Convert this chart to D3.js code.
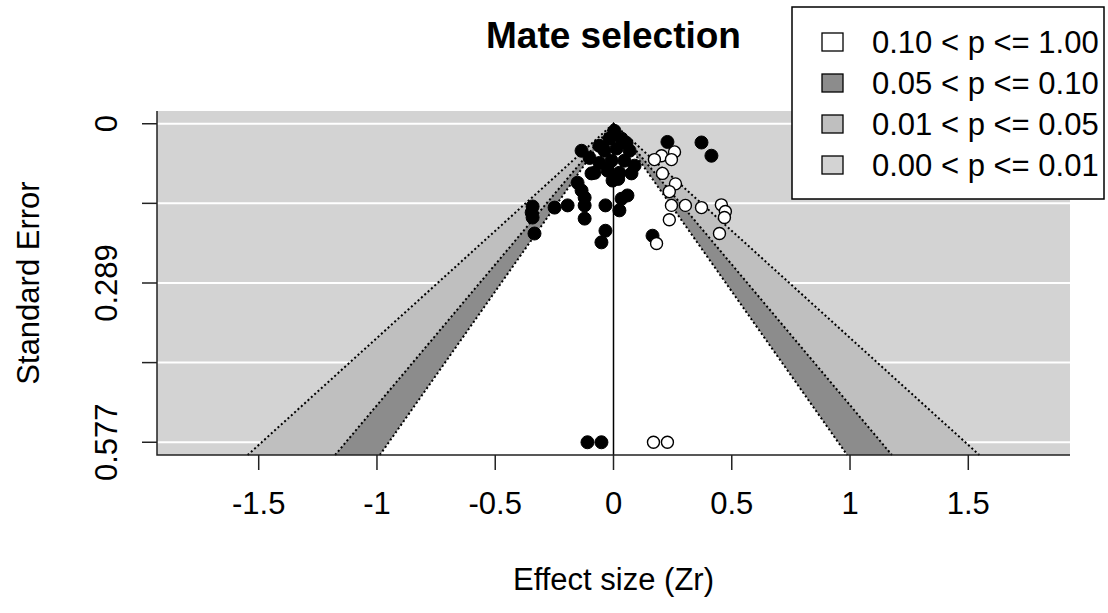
<!DOCTYPE html>
<html>
<head>
<meta charset="utf-8">
<script src="https://cdn.jsdelivr.net/npm/d3@7"></script>
<style>
  body { margin: 0; background: #fff; }
  svg { display: block; font-family: "Liberation Sans", Arial, sans-serif; }
</style>
</head>
<body>
<div id="chart"></div>
<script>
// observed studies (Zr, standard error)
var obsZr = [0.228, 0.372, 0.414, -0.135, -0.101, -0.046, -0.093, -0.152, -0.135, -0.122,
  -0.249, -0.194, -0.122, -0.122, -0.342, -0.346, -0.342, -0.334, -0.034, -0.034,
  -0.051, 0.025, 0.059, 0.034, 0.165, -0.110, -0.051,
  0.004, -0.017, 0.034, -0.038, 0.013, 0.068, -0.008, 0.046, 0.089, -0.025,
  0.025, 0.076, -0.004, -0.059, -0.080, 0.055, 0.020, -0.060];
var obsSE = [0.033, 0.034, 0.058, 0.049, 0.062, 0.043, 0.090, 0.107, 0.121, 0.134,
  0.152, 0.148, 0.148, 0.172, 0.150, 0.161, 0.170, 0.199, 0.148, 0.194,
  0.215, 0.157, 0.130, 0.136, 0.203, 0.5774, 0.5774,
  0.013, 0.027, 0.027, 0.049, 0.045, 0.049, 0.067, 0.067, 0.076, 0.085,
  0.089, 0.090, 0.103, 0.071, 0.089, 0.035, 0.100, 0.040];

// filled-in studies (trim and fill)
var fillZr = [0.258, 0.203, 0.173, 0.245, 0.207, 0.262, 0.236, 0.245, 0.304, 0.372,
  0.456, 0.473, 0.469, 0.236, 0.448, 0.182, 0.169, 0.228];
var fillSE = [0.051, 0.058, 0.065, 0.065, 0.090, 0.109, 0.123, 0.148, 0.148, 0.152,
  0.147, 0.159, 0.170, 0.174, 0.199, 0.217, 0.5774, 0.5774];

var xTicks = [-1.5, -1, -0.5, 0, 0.5, 1, 1.5];
var seTicks = [0, 0.1443, 0.2887, 0.4330, 0.5774];
var seTickLabels = ["0", "", "0.289", "", "0.577"];

// contour levels (z for p = .10, .05, .01) and their shades
var contourZ = [2.576, 1.960, 1.645];
var contourFill = ["#BFBFBF", "#8C8C8C", "#FFFFFF"];

var legendLabels = ["0.10 < p <= 1.00", "0.05 < p <= 0.10", "0.01 < p <= 0.05", "0.00 < p <= 0.01"];
var legendFill = ["#FFFFFF", "#8C8C8C", "#BFBFBF", "#D3D3D3"];

var width = 1108, height = 613;
var pLeft = 157, pRight = 1070, pTop = 111, pBottom = 455;

var svg = d3.select("#chart").append("svg")
    .attr("width", width)
    .attr("height", height);

var x = d3.scaleLinear().domain([-1.93, 1.93]).range([pLeft, pRight]);
var y = d3.scaleLinear().domain([-0.0231, 0.6005]).range([pTop, pBottom]);
var seMax = y.domain()[1];

// background
svg.append("rect")
    .attr("x", pLeft).attr("y", pTop)
    .attr("width", pRight - pLeft).attr("height", pBottom - pTop)
    .attr("fill", "#D3D3D3");

// white grid lines
svg.selectAll(".grid").data(seTicks).enter().append("line")
    .attr("x1", pLeft).attr("x2", pRight)
    .attr("y1", function (d) { return y(d); })
    .attr("y2", function (d) { return y(d); })
    .attr("stroke", "#fff")
    .attr("stroke-width", 2);

var line = d3.line()
    .x(function (d) { return x(d[0]); })
    .y(function (d) { return y(d[1]); });

function funnel(z) {
    return [[-z * seMax, seMax], [0, 0], [z * seMax, seMax]];
}

// contour regions
contourZ.forEach(function (z, i) {
    svg.append("path")
        .attr("d", line(funnel(z)) + "Z")
        .attr("fill", contourFill[i]);
});

// dotted contour edges
contourZ.forEach(function (z) {
    svg.append("path")
        .attr("d", line(funnel(z)))
        .attr("fill", "none")
        .attr("stroke", "#000")
        .attr("stroke-width", 2)
        .attr("stroke-dasharray", "2,2.5");
});

// reference line at 0
svg.append("line")
    .attr("x1", x(0)).attr("x2", x(0))
    .attr("y1", y(0)).attr("y2", pBottom)
    .attr("stroke", "#000")
    .attr("stroke-width", 1.5);

// observed points
svg.selectAll(".obs").data(d3.range(obsZr.length)).enter().append("circle")
    .attr("cx", function (i) { return x(obsZr[i]); })
    .attr("cy", function (i) { return y(obsSE[i]); })
    .attr("r", 6.5)
    .attr("fill", "#000")
    .attr("stroke", "#000")
    .attr("stroke-width", 1);

// filled-in points
svg.selectAll(".fill").data(d3.range(fillZr.length)).enter().append("circle")
    .attr("cx", function (i) { return x(fillZr[i]); })
    .attr("cy", function (i) { return y(fillSE[i]); })
    .attr("r", 6)
    .attr("fill", "#fff")
    .attr("stroke", "#000")
    .attr("stroke-width", 1.4);

// axes frame (left + bottom)
svg.append("path")
    .attr("d", "M" + pLeft + "," + pTop + "V" + pBottom + "H" + pRight)
    .attr("fill", "none")
    .attr("stroke", "#222")
    .attr("stroke-width", 1.5);

// x ticks
var xAxis = svg.append("g");
xTicks.forEach(function (t) {
    xAxis.append("line")
        .attr("x1", x(t)).attr("x2", x(t))
        .attr("y1", pBottom).attr("y2", pBottom + 15)
        .attr("stroke", "#222").attr("stroke-width", 1.5);
    xAxis.append("text")
        .attr("x", x(t)).attr("y", 514)
        .attr("text-anchor", "middle")
        .style("font-size", "31px")
        .text(String(t));
});

// y ticks
seTicks.forEach(function (t, i) {
    svg.append("line")
        .attr("x1", pLeft - 15).attr("x2", pLeft)
        .attr("y1", y(t)).attr("y2", y(t))
        .attr("stroke", "#222").attr("stroke-width", 1.5);
    if (seTickLabels[i]) {
        svg.append("text")
            .attr("transform", "translate(117," + y(t) + ") rotate(-90)")
            .attr("text-anchor", "middle")
            .style("font-size", "31px")
            .text(seTickLabels[i]);
    }
});

// axis titles
svg.append("text")
    .attr("x", (pLeft + pRight) / 2).attr("y", 590)
    .attr("text-anchor", "middle")
    .style("font-size", "31px")
    .text("Effect size (Zr)");

svg.append("text")
    .attr("transform", "translate(39," + ((pTop + pBottom) / 2) + ") rotate(-90)")
    .attr("text-anchor", "middle")
    .style("font-size", "31px")
    .text("Standard Error");

// title
svg.append("text")
    .attr("x", (pLeft + pRight) / 2).attr("y", 48)
    .attr("text-anchor", "middle")
    .style("font-size", "37px")
    .style("font-weight", "bold")
    .text("Mate selection");

// legend
var lg = svg.append("g");
lg.append("rect")
    .attr("x", 792).attr("y", 7)
    .attr("width", 312).attr("height", 192)
    .attr("fill", "#fff")
    .attr("stroke", "#000")
    .attr("stroke-width", 1.5);

legendLabels.forEach(function (lab, i) {
    var cy = 42 + i * 41;
    lg.append("rect")
        .attr("x", 822).attr("y", cy - 9)
        .attr("width", 21).attr("height", 18)
        .attr("fill", legendFill[i])
        .attr("stroke", "#000")
        .attr("stroke-width", 1.3);
    lg.append("text")
        .attr("x", 872).attr("y", cy + 11)
        .style("font-size", "31px")
        .text(lab);
});
</script>
</body>
</html>
